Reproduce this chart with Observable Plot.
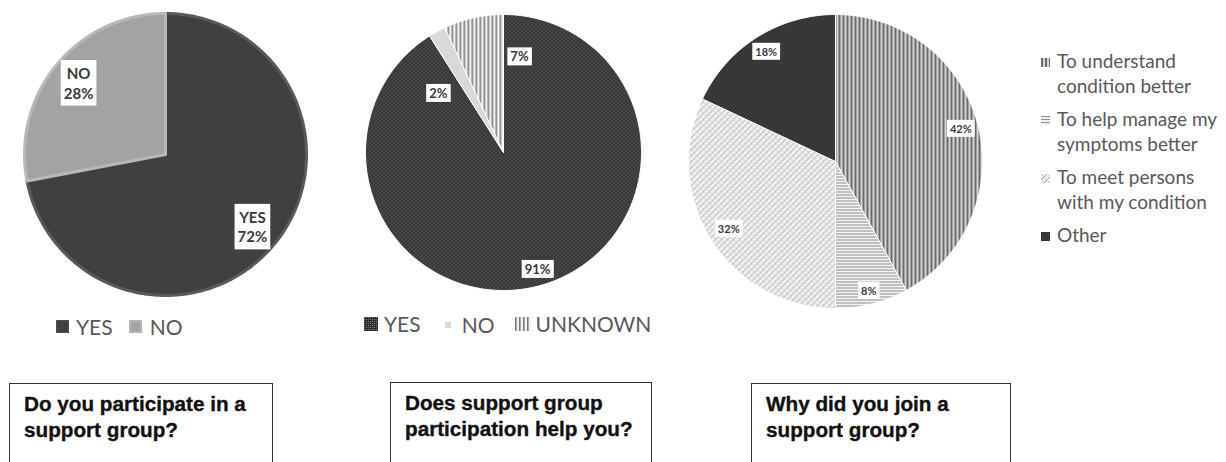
<!DOCTYPE html>
<html>
<head>
<meta charset="utf-8">
<script src="https://cdn.jsdelivr.net/npm/d3@7"></script>
<script src="https://cdn.jsdelivr.net/npm/@observablehq/plot@0.6"></script>
<style>
  html, body { margin: 0; padding: 0; background: #fff; }
  #root { position: relative; width: 1226px; height: 462px; overflow: hidden; background: #fff; }
  .pie { position: absolute; }
  .legend { position: absolute; font-family: Lato, "Open Sans", sans-serif; color: #595959; white-space: nowrap; }
  .legend .item { display: inline-flex; align-items: center; }
  .legend svg { display: block; }
  .box { position: absolute; border: 1.5px solid #333; background: #fff; box-sizing: border-box;
         font-family: "Liberation Sans", Arial, sans-serif; font-weight: bold; color: #111;
         white-space: pre-line; -webkit-text-stroke: 0.35px #111; }
  #leg3 .item { display: flex; align-items: flex-start; margin-bottom: 8px; }
  #leg3 .txt { white-space: pre-line; line-height: 25px; font-size: 19px; }
</style>
</head>
<body>
<svg width="0" height="0" style="position:absolute">
  <defs>
    <pattern id="pYes2" width="4" height="4" patternUnits="userSpaceOnUse">
      <rect width="4" height="4" fill="#2e2e2e"/>
      <rect x="0" y="0" width="1" height="1" fill="#8a8a8a"/>
      <rect x="2" y="2" width="1" height="1" fill="#8a8a8a"/>
      <rect x="2" y="0" width="1" height="1" fill="#5a5a5a"/>
      <rect x="0" y="2" width="1" height="1" fill="#5a5a5a"/>
    </pattern>
    <pattern id="pUnk2" width="4" height="4" patternUnits="userSpaceOnUse">
      <rect width="4" height="4" fill="#f3f3f3"/>
      <rect x="0" y="0" width="1.6" height="4" fill="#787878"/>
    </pattern>
    <pattern id="pVert3" width="4" height="4" patternUnits="userSpaceOnUse">
      <rect width="4" height="4" fill="#d6d6d6"/>
      <rect x="0" y="0" width="2" height="4" fill="#6a6a6a"/>
    </pattern>
    <pattern id="pHorz3" width="3" height="3" patternUnits="userSpaceOnUse">
      <rect width="3" height="3" fill="#f2f2f2"/>
      <rect x="0" y="0" width="3" height="1" fill="#8e8e8e"/>
    </pattern>
    <pattern id="pBrick3" width="6" height="6" patternUnits="userSpaceOnUse">
      <rect width="6" height="6" fill="#f4f4f4"/>
      <path d="M0,6 L6,0 M-1,1 L1,-1 M5,7 L7,5" stroke="#a0a0a0" stroke-width="1"/>
      <path d="M1,1 L2.5,2.5 M4,4 L5.5,5.5" stroke="#bcbcbc" stroke-width="0.9"/>
    </pattern>
    <pattern id="pDark3" width="4" height="4" patternUnits="userSpaceOnUse">
      <rect width="4" height="4" fill="#323232"/>
      <rect x="1" y="1" width="1" height="1" fill="#5e5e5e"/>
      <rect x="3" y="3" width="1" height="1" fill="#5e5e5e"/>
    </pattern>
  </defs>
</svg>
<div id="root"></div>
<script>
// ---------------- data ----------------
const q1Categories = ["YES", "NO"];
const q1Values = [72, 28];

const q2Categories = ["YES", "NO", "UNKNOWN"];
const q2Values = [91, 2, 7];

const q3Categories = [
  "To understand\ncondition better",
  "To help manage my\nsymptoms better",
  "To meet persons\nwith my condition",
  "Other"
];
const q3Values = [42, 8, 32, 18];

const questionTitles = [
  "Do you participate in a\nsupport group?",
  "Does support group\nparticipation help you?",
  "Why did you join a\nsupport group?"
];

// ---------------- styles / layout ----------------
const root = document.getElementById("root");
const NS = "http://www.w3.org/2000/svg";

function pieChart(cfg) {
  const {cats, vals, fills, strokes, strokeWidth, cx, cy, r, labelText, labelPlace, fontSize, lineHeight, padX, padY} = cfg;
  const pad = 6;
  const k = (r + pad) / r;
  const s = 2 * (r + pad);
  const arcs = d3.pie().sort(null).value(d => d)(vals);
  const pts = [];
  const labels = [];
  arcs.forEach((a, i) => {
    const n = Math.max(2, Math.ceil((a.endAngle - a.startAngle) / (Math.PI / 180)));
    const base = {k: cats[i], fill: fills[i], stroke: strokes[i]};
    pts.push({...base, x: 0, y: 0});
    for (let j = 0; j <= n; j++) {
      const t = a.startAngle + (a.endAngle - a.startAngle) * j / n;
      pts.push({...base, x: Math.sin(t), y: Math.cos(t)});
    }
    pts.push({...base, x: 0, y: 0});
    const [f, deg] = labelPlace[i];
    const ang = deg == null ? (a.startAngle + a.endAngle) / 2 : deg * Math.PI / 180;
    labels.push({x: f * Math.sin(ang), y: f * Math.cos(ang), t: labelText(cats[i], vals[i])});
  });
  const svg = Plot.plot({
    width: s, height: s, margin: 0,
    style: {background: "transparent", overflow: "visible"},
    x: {domain: [-k, k], axis: null},
    y: {domain: [-k, k], axis: null},
    color: {type: "identity"},
    marks: [
      Plot.line(pts, {x: "x", y: "y", z: "k", fill: "fill", stroke: "stroke", strokeWidth, strokeLinejoin: "round", curve: "linear"}),
      Plot.text(labels, {x: "x", y: "y", text: "t", fontSize, lineHeight, fontWeight: "bold",
        fontFamily: "Lato, 'Open Sans', sans-serif", fill: "#3a3a3a"})
    ]
  });
  const div = document.createElement("div");
  div.className = "pie";
  div.style.left = (cx - s / 2) + "px";
  div.style.top = (cy - s / 2) + "px";
  div.appendChild(svg);
  root.appendChild(div);
  // white label boxes
  svg.querySelectorAll('g[aria-label="text"] text').forEach(t => {
    const b = t.getBBox();
    const rect = document.createElementNS(NS, "rect");
    rect.setAttribute("x", b.x - padX);
    rect.setAttribute("y", b.y - padY);
    rect.setAttribute("width", b.width + 2 * padX);
    rect.setAttribute("height", b.height + 2 * padY);
    rect.setAttribute("fill", "#fff");
    rect.setAttribute("stroke", "none");
    if (t.getAttribute("transform")) rect.setAttribute("transform", t.getAttribute("transform"));
    t.parentNode.insertBefore(rect, t);
  });
}

pieChart({
  cats: q1Categories, vals: q1Values,
  fills: ["#404040", "#a3a3a3"], strokes: ["#5a5a5a", "#b8b8b8"], strokeWidth: 3,
  cx: 165, cy: 154, r: 141,
  labelText: (c, v) => `${c}\n${v}%`,
  labelPlace: [[0.8, null], [0.8, null]],
  fontSize: 15, lineHeight: 1.3, padX: 3, padY: 4
});

pieChart({
  cats: q2Categories, vals: q2Values,
  fills: ["url(#pYes2)", "#d9d9d9", "url(#pUnk2)"], strokes: ["#ffffff", "#ffffff", "#ffffff"], strokeWidth: 1,
  cx: 502.5, cy: 152, r: 138,
  labelText: (c, v) => `${v}%`,
  labelPlace: [[0.885, null], [0.636, 312], [0.70, 9.5]],
  fontSize: 13, lineHeight: 1, padX: 3, padY: 1
});

pieChart({
  cats: q3Categories, vals: q3Values,
  fills: ["url(#pVert3)", "url(#pHorz3)", "url(#pBrick3)", "url(#pDark3)"], strokes: ["#ffffff", "#ffffff", "#ffffff", "#ffffff"], strokeWidth: 1,
  cx: 835, cy: 161, r: 147,
  labelText: (c, v) => `${v}%`,
  labelPlace: [[0.88, null], [0.91, null], [0.86, null], [0.88, null]],
  fontSize: 11, lineHeight: 1, padX: 3, padY: 2
});

// ---------------- legends ----------------
function swatch(w, h, fill, stroke, sw) {
  return `<svg width="${w}" height="${h}"><rect x="${sw/2}" y="${sw/2}" width="${w - sw}" height="${h - sw}" fill="${fill}" stroke="${stroke}" stroke-width="${sw}"/></svg>`;
}
function makeLegend(id, left, top, fontSize, items, gap) {
  const d = document.createElement("div");
  d.className = "legend"; d.id = id;
  d.style.left = left + "px"; d.style.top = top + "px";
  d.style.fontSize = fontSize + "px"; d.style.lineHeight = "24px";
  d.innerHTML = items.map((it, i) =>
    `<span class="item" style="margin-right:${i < items.length - 1 ? gap : 0}px">${it.sw}<span style="margin-left:${it.ml}px">${it.label}</span></span>`
  ).join("");
  root.appendChild(d);
}
makeLegend("leg1", 56, 313, 21, [
  {label: q1Categories[0], sw: swatch(13, 13, "#404040", "#505050", 1), ml: 7},
  {label: q1Categories[1], sw: swatch(13, 13, "#a3a3a3", "#b5b5b5", 2), ml: 8}
], 16);
makeLegend("leg2", 364, 311, 21, [
  {label: q2Categories[0], sw: swatch(14, 14, "url(#pYes2)", "none", 0), ml: 6},
  {label: q2Categories[1], sw: swatch(12, 12, "#d9d9d9", "#ffffff", 3), ml: 8},
  {label: q2Categories[2], sw: swatch(16, 14, "url(#pUnk2)", "none", 0), ml: 4}
], 21);

const leg3 = document.createElement("div");
leg3.className = "legend"; leg3.id = "leg3";
leg3.style.left = "1041px"; leg3.style.top = "48px";
const leg3Fills = ["url(#pVert3)", "url(#pHorz3)", "url(#pBrick3)", "url(#pDark3)"];
leg3.innerHTML = q3Categories.map((c, i) =>
  `<div class="item"><div style="margin-top:10px">${swatch(9, 9, leg3Fills[i], "none", 0)}</div><div class="txt" style="margin-left:7px">${c}</div></div>`
).join("");
root.appendChild(leg3);

// ---------------- question boxes ----------------
const boxGeom = [[9, 383, 264], [390, 382, 262], [751, 383, 260]];
questionTitles.forEach((q, i) => {
  const [l, t, w] = boxGeom[i];
  const b = document.createElement("div");
  b.className = "box";
  b.style.left = l + "px"; b.style.top = t + "px"; b.style.width = w + "px"; b.style.height = "110px";
  b.style.padding = "7px 0 0 14px";
  b.style.fontSize = "20.7px"; b.style.lineHeight = "26px";
  b.textContent = q;
  root.appendChild(b);
});
</script>
</body>
</html>
